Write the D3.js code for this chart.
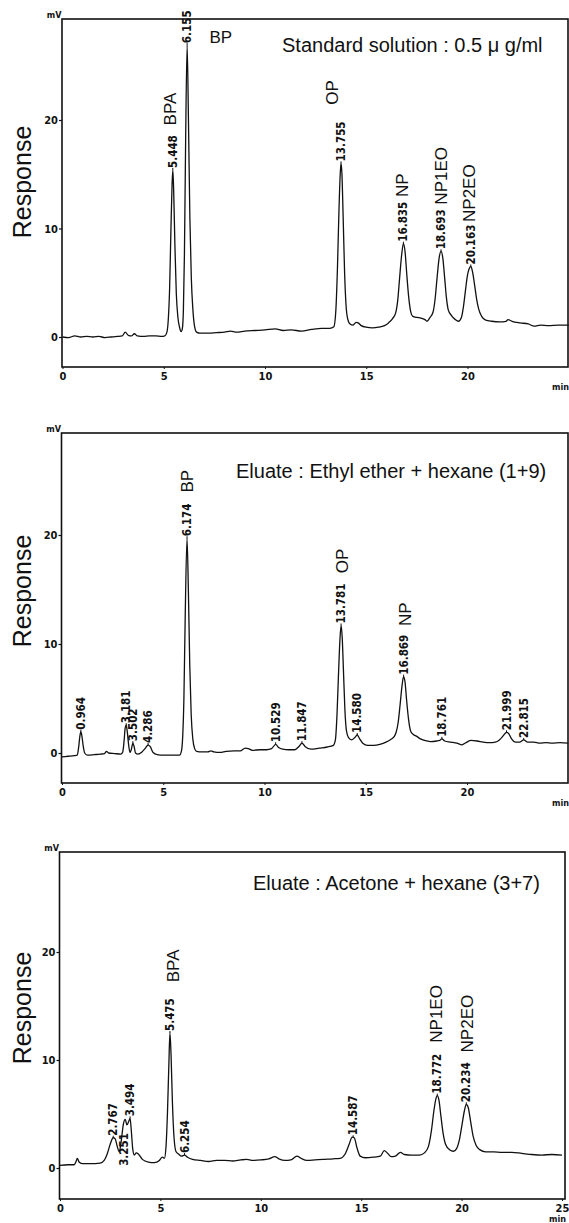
<!DOCTYPE html>
<html><head><meta charset="utf-8">
<script src="https://cdn.jsdelivr.net/npm/d3@7"></script>
<style>
html,body{margin:0;padding:0;background:#fff;}
svg{display:block;}
.num{font-family:"Liberation Sans Narrow","DejaVu Sans Condensed",sans-serif;font-weight:bold;font-size:11.5px;fill:#111;}
.tick{font-family:"Liberation Sans Narrow","DejaVu Sans Condensed",sans-serif;font-weight:bold;font-size:11px;fill:#111;}
.unit{font-family:"Liberation Sans Narrow","DejaVu Sans Condensed",sans-serif;font-weight:bold;font-size:9px;fill:#111;}
.name{font-family:"Liberation Sans",Arial,sans-serif;font-size:17px;fill:#111;}
.title{font-family:"Liberation Sans",Arial,sans-serif;font-size:20px;fill:#111;}
.ylab{font-family:"Liberation Sans",Arial,sans-serif;font-size:25px;fill:#111;}
</style></head>
<body>
<svg id="c" width="569" height="1223"></svg>
<script>
// ---------- DATA ----------
const xTicksShort = [0, 5, 10, 15, 20];
const xTicksLong = [0, 5, 10, 15, 20, 25];
const yTicks = [0, 10, 20];
const yLabel = "Response";
const xUnit = "min";
const yUnit = "mV";

const titles = [
  "Standard solution : 0.5 \u03bc g/ml",
  "Eluate : Ethyl ether + hexane (1+9)",
  "Eluate : Acetone + hexane (3+7)"
];

// chromatogram traces: [time (min), response (mV)]
const stdTrace = [[0,0.0],[0.3,-0.05],[0.6,0.1],[0.9,0.0],[1.2,0.05],[1.5,0.0],[1.8,0.05],[2.1,-0.05],[2.4,0.0],[2.7,0.05],[2.95,0.1],[3.1,0.45],[3.25,0.15],[3.4,0.1],[3.55,0.3],[3.7,0.1],[4.0,0.05],[4.3,0.1],[4.6,0.1],[4.9,0.05],[5.05,0.1],[5.15,0.4],[5.22,1.5],[5.29,4.5],[5.35,9.5],[5.41,14.0],[5.448,15.4],[5.49,13.5],[5.55,8.5],[5.62,4.0],[5.7,1.8],[5.78,0.9],[5.86,0.5],[5.92,0.8],[5.97,2.5],[6.02,7.5],[6.08,18],[6.155,26.9],[6.22,20],[6.29,11],[6.36,5.5],[6.44,2.5],[6.52,1.0],[6.62,0.45],[6.8,0.35],[7.2,0.35],[7.6,0.4],[8.0,0.45],[8.3,0.55],[8.6,0.45],[9.0,0.55],[9.5,0.6],[10.0,0.65],[10.5,0.75],[10.9,0.6],[11.3,0.65],[11.8,0.55],[12.3,0.7],[12.8,0.8],[13.2,0.8],[13.4,0.95],[13.5,2.5],[13.58,6.5],[13.65,11.5],[13.72,15.2],[13.755,16.0],[13.8,15.0],[13.86,11],[13.93,6],[14.0,3.0],[14.08,1.7],[14.2,1.2],[14.35,1.1],[14.5,1.35],[14.6,1.3],[14.75,1.05],[15.0,0.9],[15.3,0.85],[15.6,0.9],[15.9,1.05],[16.1,1.3],[16.3,1.7],[16.45,2.2],[16.55,3.3],[16.65,5.5],[16.75,7.6],[16.835,8.6],[16.92,7.8],[17.0,5.8],[17.1,3.6],[17.2,2.3],[17.3,1.9],[17.5,1.8],[17.7,1.75],[17.9,1.6],[18.0,1.45],[18.15,1.8],[18.3,2.3],[18.4,3.5],[18.5,5.5],[18.6,7.3],[18.693,7.9],[18.78,7.3],[18.87,5.5],[18.96,3.6],[19.05,2.5],[19.2,2.0],[19.4,1.6],[19.55,1.45],[19.7,1.8],[19.8,2.8],[19.9,4.3],[20.0,5.7],[20.08,6.3],[20.163,6.5],[20.25,6.0],[20.35,4.8],[20.45,3.5],[20.55,2.6],[20.7,1.9],[20.9,1.55],[21.2,1.45],[21.6,1.4],[21.9,1.45],[22.0,1.6],[22.2,1.45],[22.6,1.3],[23.0,1.2],[23.3,1.0],[23.6,1.1],[24.0,1.05],[24.5,1.1],[25.0,1.1]];

const etherTrace = [[0,-0.35],[0.3,-0.3],[0.6,-0.25],[0.75,-0.2],[0.82,0.5],[0.88,1.5],[0.93,1.95],[0.98,1.6],[1.05,0.6],[1.12,0.0],[1.25,-0.2],[1.6,-0.15],[1.9,-0.1],[2.1,-0.05],[2.2,0.15],[2.3,0.0],[2.6,-0.05],[2.9,-0.1],[3.0,0.1],[3.07,1.2],[3.12,2.3],[3.17,2.55],[3.22,2.0],[3.3,0.6],[3.36,0.05],[3.42,0.3],[3.5,0.9],[3.56,0.6],[3.63,0.0],[3.75,-0.1],[3.95,0.1],[4.1,0.4],[4.25,0.73],[4.35,0.6],[4.5,0.05],[4.7,-0.15],[5.0,-0.2],[5.4,-0.2],[5.8,-0.2],[5.9,0.2],[5.96,1.5],[6.02,5],[6.08,12],[6.174,19.7],[6.24,15],[6.31,8],[6.38,3.5],[6.46,1.3],[6.55,0.4],[6.65,0.15],[6.9,0.1],[7.2,0.1],[7.35,0.2],[7.5,0.1],[7.8,0.05],[8.1,0.15],[8.5,0.2],[8.8,0.2],[9.05,0.45],[9.2,0.4],[9.4,0.25],[9.8,0.3],[10.1,0.3],[10.35,0.4],[10.55,0.8],[10.7,0.5],[10.9,0.35],[11.2,0.3],[11.5,0.3],[11.7,0.6],[11.85,0.9],[12.0,0.6],[12.3,0.35],[12.7,0.45],[13.1,0.55],[13.4,0.7],[13.5,1.2],[13.58,3.5],[13.65,7],[13.72,10.2],[13.781,11.7],[13.84,10.5],[13.9,7.5],[13.97,4],[14.05,2.0],[14.15,1.4],[14.3,1.2],[14.45,1.4],[14.58,1.65],[14.7,1.3],[14.85,0.9],[15.1,0.7],[15.4,0.7],[15.7,0.8],[16.0,1.0],[16.2,1.2],[16.4,1.5],[16.5,1.9],[16.6,2.8],[16.7,4.5],[16.8,6.3],[16.869,7.0],[16.94,6.5],[17.02,4.8],[17.12,3.0],[17.22,2.0],[17.35,1.7],[17.5,1.55],[17.7,1.3],[17.9,1.15],[18.2,1.05],[18.5,1.1],[18.65,1.15],[18.76,1.3],[18.9,1.1],[19.2,1.0],[19.5,0.9],[19.75,0.75],[19.95,0.95],[20.2,1.15],[20.5,1.1],[20.8,1.0],[21.1,0.95],[21.4,1.0],[21.6,1.2],[21.8,1.6],[21.95,1.9],[22.05,1.8],[22.2,1.3],[22.4,1.0],[22.6,1.0],[22.8,1.2],[23.0,1.0],[23.3,1.0],[23.6,0.9],[23.9,0.95],[24.2,0.9],[24.6,0.95],[25.0,0.9]];

const acetoneTrace = [[0,0.25],[0.4,0.3],[0.7,0.3],[0.8,0.6],[0.86,0.9],[0.95,0.55],[1.1,0.4],[1.5,0.4],[2.0,0.45],[2.2,0.7],[2.35,1.3],[2.5,2.2],[2.65,2.8],[2.75,2.7],[2.85,2.0],[2.95,1.5],[3.05,2.5],[3.15,4.0],[3.25,4.5],[3.33,4.0],[3.42,4.3],[3.49,4.6],[3.55,3.5],[3.62,1.8],[3.7,1.2],[3.8,1.4],[3.9,1.3],[4.1,0.8],[4.4,0.55],[4.7,0.5],[4.95,0.7],[5.1,1.0],[5.2,0.9],[5.28,2.0],[5.35,5],[5.42,9.5],[5.475,12.5],[5.53,10.5],[5.6,6],[5.68,2.8],[5.78,1.5],[5.9,1.3],[6.05,1.1],[6.2,1.2],[6.35,1.0],[6.6,0.8],[7.0,0.7],[7.4,0.6],[7.8,0.7],[8.2,0.7],[8.6,0.65],[9.0,0.75],[9.3,0.8],[9.6,0.7],[10.0,0.75],[10.4,0.85],[10.7,1.05],[10.9,0.85],[11.2,0.7],[11.5,0.75],[11.8,1.1],[12.0,0.9],[12.3,0.7],[12.7,0.75],[13.1,0.8],[13.6,0.85],[13.95,0.9],[14.2,1.3],[14.4,2.2],[14.55,2.85],[14.65,2.8],[14.8,1.8],[14.95,1.1],[15.2,0.95],[15.6,1.0],[15.95,1.1],[16.15,1.6],[16.3,1.4],[16.5,1.05],[16.7,1.1],[16.95,1.45],[17.15,1.25],[17.5,1.2],[17.9,1.2],[18.15,1.4],[18.35,2.0],[18.5,3.5],[18.62,5.3],[18.72,6.4],[18.79,6.7],[18.87,6.3],[18.97,4.8],[19.08,3.2],[19.2,2.2],[19.4,1.7],[19.6,1.55],[19.75,1.8],[19.9,2.7],[20.02,4.0],[20.14,5.3],[20.234,5.9],[20.33,5.6],[20.45,4.3],[20.58,2.9],[20.72,2.1],[20.9,1.7],[21.2,1.5],[21.6,1.5],[22.0,1.45],[22.5,1.45],[23.0,1.35],[23.5,1.25],[24.0,1.2],[24.5,1.25],[25.0,1.2]];

// retention-time labels: [label, time, response at label foot, placement]
const stdPeaks = [["5.448",5.448,15.4,"up"],["6.155",6.155,26.9,"up"],["13.755",13.755,16.0,"up"],["16.835",16.835,8.6,"up"],["18.693",18.693,7.9,"up"],["20.163",20.163,6.5,"up"]];
const etherPeaks = [["0.964",0.93,1.95,"up"],["3.181",3.17,2.55,"up"],["3.502",3.5,0.9,"up"],["4.286",4.25,0.73,"up"],["6.174",6.174,19.7,"up"],["10.529",10.55,0.8,"up"],["11.847",11.85,0.9,"up"],["13.781",13.781,11.7,"up"],["14.580",14.58,1.65,"up"],["16.869",16.869,7.0,"up"],["18.761",18.76,1.3,"up"],["21.999",21.95,1.9,"up"],["22.815",22.8,1.2,"up"]];
const acetonePeaks = [["2.767",2.65,2.8,"up"],["3.251",3.2,0.2,"below"],["3.494",3.49,4.6,"up"],["5.475",5.475,12.5,"up"],["6.254",6.2,1.2,"up"],["14.587",14.6,2.85,"up"],["18.772",18.79,6.7,"up"],["20.234",20.234,5.9,"up"]];

// compound names: [name, time, response at text foot, orientation]
const stdNames = [["BPA",5.33,19.5,"v"],["BP",7.26,27.1,"h"],["OP",13.33,21.4,"v"],["NP",16.79,12.9,"v"],["NP1EO",18.67,12.2,"v"],["NP2EO",20.1,10.6,"v"]];
const etherNames = [["BP",6.17,23.9,"v"],["OP",13.83,16.5,"v"],["NP",16.94,11.65,"v"]];
const acetoneNames = [["BPA",5.63,17.2,"v"],["NP1EO",18.72,11.6,"v"],["NP2EO",20.27,10.7,"v"]];

// ---------- LAYOUT ----------
const layouts = [
  {x0:62.5, ppm:20.25, y0:337, ppv:10.85, top:19, bottom:367, right:568, ticks:xTicksShort, titleX:282, titleY:52, ylabY:182},
  {x0:62, ppm:20.25, y0:753, ppv:10.9, top:433, bottom:783, right:568, ticks:xTicksShort, titleX:236, titleY:478, ylabY:591},
  {x0:60, ppm:20.08, y0:1168, ppv:10.8, top:852, bottom:1199, right:565, ticks:xTicksLong, titleX:253, titleY:890, ylabY:1008}
];
const traces = [stdTrace, etherTrace, acetoneTrace];
const peaks = [stdPeaks, etherPeaks, acetonePeaks];
const names = [stdNames, etherNames, acetoneNames];

const svg = d3.select("#c");

layouts.forEach((L, i) => {
  const x = d3.scaleLinear().domain([0, 25]).range([L.x0, L.x0 + 25 * L.ppm]);
  const y = d3.scaleLinear().domain([0, 20]).range([L.y0, L.y0 - 20 * L.ppv]);
  const g = svg.append("g");

  // frame
  g.append("rect").attr("x", L.x0 - 0.5).attr("y", L.top).attr("width", L.right - L.x0 + 0.5)
    .attr("height", L.bottom - L.top).attr("fill", "none").attr("stroke", "#111").attr("stroke-width", 1.6);

  // y axis ticks
  const ya = d3.axisLeft(y).tickValues(yTicks).tickSize(3).tickPadding(1).tickFormat(d3.format("d"));
  const yg = g.append("g").attr("transform", `translate(${L.x0 - 0.5},0)`).call(ya);
  yg.select(".domain").remove();
  yg.selectAll("line").attr("stroke", "#111").attr("stroke-width", 1.2);
  yg.selectAll("text").attr("class", "tick").attr("font-family", null).attr("font-size", null);

  // x axis
  const xa = d3.axisBottom(x).tickValues(L.ticks).tickSize(2).tickPadding(3).tickFormat(d3.format("d"));
  const xg = g.append("g").attr("transform", `translate(0,${L.bottom})`).call(xa);
  xg.select(".domain").remove();
  xg.selectAll("line").attr("stroke", "#111");
  xg.selectAll("text").attr("class", "tick").attr("font-family", null).attr("font-size", null);

  g.append("text").attr("class", "unit").attr("x", L.right + 1).attr("y", L.bottom + 23)
    .attr("text-anchor", "end").text(xUnit);
  g.append("text").attr("class", "unit").attr("x", L.x0 - 1).attr("y", L.top - 1)
    .attr("text-anchor", "end").text(yUnit);

  // y label
  g.append("text").attr("class", "ylab").attr("transform", `translate(31,${L.ylabY}) rotate(-90)`)
    .attr("text-anchor", "middle").text(yLabel);

  // title
  g.append("text").attr("class", "title").attr("x", L.titleX).attr("y", L.titleY).text(titles[i]);

  // trace
  const line = d3.line().x(d => x(d[0])).y(d => y(d[1])).curve(d3.curveMonotoneX);
  g.append("path").datum(traces[i]).attr("d", line).attr("fill", "none")
    .attr("stroke", "#111").attr("stroke-width", 1.3).attr("stroke-linejoin", "round");

  // retention time labels
  peaks[i].forEach(p => {
    const px = x(p[1]), py = y(p[2]);
    if (p[3] === "up") {
      g.append("line").attr("x1", px).attr("x2", px).attr("y1", py).attr("y2", py - 2)
        .attr("stroke", "#111").attr("stroke-width", 1);
      g.append("text").attr("class", "num")
        .attr("transform", `translate(${px},${py - 2}) rotate(-90)`)
        .attr("dy", "0.35em").text(p[0]);
    } else {
      g.append("text").attr("class", "num")
        .attr("transform", `translate(${px},${py}) rotate(-90)`)
        .attr("dy", "0.35em").text(p[0]);
    }
  });

  // compound names
  names[i].forEach(n => {
    const px = x(n[1]), py = y(n[2]);
    if (n[3] === "v") {
      g.append("text").attr("class", "name")
        .attr("transform", `translate(${px},${py}) rotate(-90)`)
        .attr("dy", "0.35em").text(n[0]);
    } else {
      g.append("text").attr("class", "name").attr("x", px).attr("y", py).text(n[0]);
    }
  });
});
</script>
</body></html>
